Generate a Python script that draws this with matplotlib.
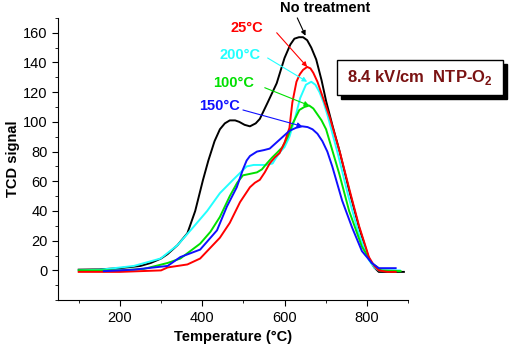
import numpy as np
import matplotlib
matplotlib.use('Agg')
import matplotlib.pyplot as plt
from matplotlib.patches import Rectangle
from matplotlib.ticker import MultipleLocator

plt.rcParams['font.family'] = ['Liberation Sans', 'DejaVu Sans']
plt.rcParams['mathtext.fontset'] = 'custom'
plt.rcParams['mathtext.bf'] = 'Liberation Sans:bold'
plt.rcParams['mathtext.rm'] = 'Liberation Sans'

# TPR profiles (temperature in C, TCD signal)
t_none = [100, 150, 200, 250, 275, 300, 316, 340, 364, 383, 402, 415, 430, 443, 455, 467,
          480, 490, 503, 516, 530, 540, 559, 581, 600, 614, 624, 635, 645, 655, 665, 677,
          690, 701, 717, 733, 757, 781, 805, 818, 829, 850, 890]
v_none = [0.5, 0.7, 1.5, 3, 5, 8, 11, 17, 25, 40, 61, 74, 87, 95, 99, 101,
          101, 100, 98, 97, 99, 102, 113, 126, 143, 152, 156, 157, 157, 155, 150, 142,
          128, 114, 97, 81, 54, 29, 8, 2, -1, -1, -1]

t_25 = [100, 200, 300, 316, 364, 395, 419, 443, 467, 492, 516, 528, 540, 552, 564, 576,
        588, 600, 612, 619, 629, 637, 645, 655, 663, 670, 680, 690, 710, 735, 760, 781,
        805, 818, 829, 850, 870]
v_25 = [-1, -1, 0, 2, 4, 8, 15, 22, 32, 46, 56, 59, 61, 66, 72, 76,
        79, 86, 96, 113, 127, 132, 135, 137, 136, 133, 127, 119, 103, 79, 52, 30,
        9, 3, 0, -1, -1]

t_200 = [100, 154, 234, 299, 340, 378, 412, 443, 475, 508, 525, 540, 555, 571, 580, 590,
         600, 612, 625, 638, 652, 665, 675, 685, 695, 705, 730, 755, 780, 805, 818, 829,
         850, 880]
v_200 = [0, 0.5, 3, 8, 17, 29, 40, 52, 61, 70, 71, 71, 71, 72, 76, 80,
         83, 90, 102, 116, 125, 127, 125, 120, 113, 104, 78, 50, 25, 7, 2, 0,
         0, 0]

t_100 = [100, 200, 258, 316, 347, 395, 420, 443, 467, 485, 499, 516, 533, 545, 557, 570,
         581, 595, 608, 620, 636, 648, 660, 670, 680, 690, 701, 717, 733, 757, 788, 812,
         835, 882]
v_100 = [0, 0, 1, 5, 8, 18, 26, 36, 50, 59, 64, 65, 66, 68, 72, 76,
         79, 83, 90, 99, 108, 110, 111, 109, 105, 101, 95, 80, 65, 40, 16, 5,
         0, -0.5]

t_150 = [161, 234, 316, 347, 395, 436, 460, 484, 499, 508, 516, 533, 550, 564, 576, 588,
         600, 612, 628, 643, 656, 668, 680, 692, 704, 716, 740, 764, 788, 812, 829, 870]
v_150 = [-0.5, 0.5, 3, 9, 14, 27, 43, 56, 68, 74, 77, 80, 81, 82, 85, 88,
         91, 94, 96, 97, 96.5, 95, 92, 87, 80, 70, 47, 29, 13, 5, 1.5, 1.5]

fig = plt.figure(figsize=(5.1, 3.51), dpi=100)
ax = fig.add_axes([0.114, 0.145, 0.686, 0.804])

lw = 1.4
ax.plot(t_none, v_none, color='black', lw=lw)
ax.plot(t_200, v_200, color='#22ffff', lw=lw)
ax.plot(t_100, v_100, color='#00e000', lw=lw)
ax.plot(t_25, v_25, color='red', lw=lw)
ax.plot(t_150, v_150, color='#1010ff', lw=lw)

ax.set_xlim(50, 900)
ax.set_ylim(-20, 170)
ax.xaxis.set_major_locator(MultipleLocator(200))
ax.xaxis.set_minor_locator(MultipleLocator(100))
ax.yaxis.set_major_locator(MultipleLocator(20))
ax.yaxis.set_minor_locator(MultipleLocator(10))
ax.set_yticks(np.arange(0, 161, 20))
for s in ['top', 'right']:
    ax.spines[s].set_visible(False)
ax.tick_params(which='major', length=4, labelsize=10.5, colors='black')
ax.tick_params(which='minor', length=2.5)
ax.set_xlabel('Temperature (°C)', fontsize=10.5, fontweight='bold', labelpad=4)
ax.set_ylabel('TCD signal', fontsize=10.5, fontweight='bold', labelpad=2)

# labels with arrows
labels = [('No treatment', 'black', (699, 177), (631, 170), (651, 158)),
          ('25°C', 'red', (508, 163.5), (581, 160), (655, 137)),
          ('200°C', '#22ffff', (492, 145), (559, 143), (655, 127)),
          ('100°C', '#00e000', (477, 126), (552, 123), (660, 111)),
          ('150°C', '#1010ff', (441, 111), (499, 108), (643, 97))]
for txt, c, tpos, a0, a1 in labels:
    ax.text(tpos[0], tpos[1], txt, color=c, fontsize=10.5, fontweight='bold',
            ha='center', va='center', clip_on=False)
    ax.annotate('', xy=a1, xytext=a0, annotation_clip=False,
                arrowprops=dict(arrowstyle='-|>', color=c, lw=0.8, mutation_scale=7,
                                shrinkA=0, shrinkB=0))

# boxed condition label with drop shadow
bx, by, bw, bh = 0.661, 0.729, 0.325, 0.100
fig.patches.append(Rectangle((bx + 0.008, by - 0.011), bw, bh, transform=fig.transFigure,
                             facecolor='black', edgecolor='black', zorder=1))
fig.patches.append(Rectangle((bx, by), bw, bh, transform=fig.transFigure,
                             facecolor='white', edgecolor='black', lw=1, zorder=2))
fig.text(bx + bw / 2, by + bh / 2, r'8.4 kV/cm  NTP-O$_\mathbf{2}$', color='#7a1212',
         fontsize=12, fontweight='bold', ha='center', va='center', zorder=3)

fig.savefig('out.png', dpi=100)
